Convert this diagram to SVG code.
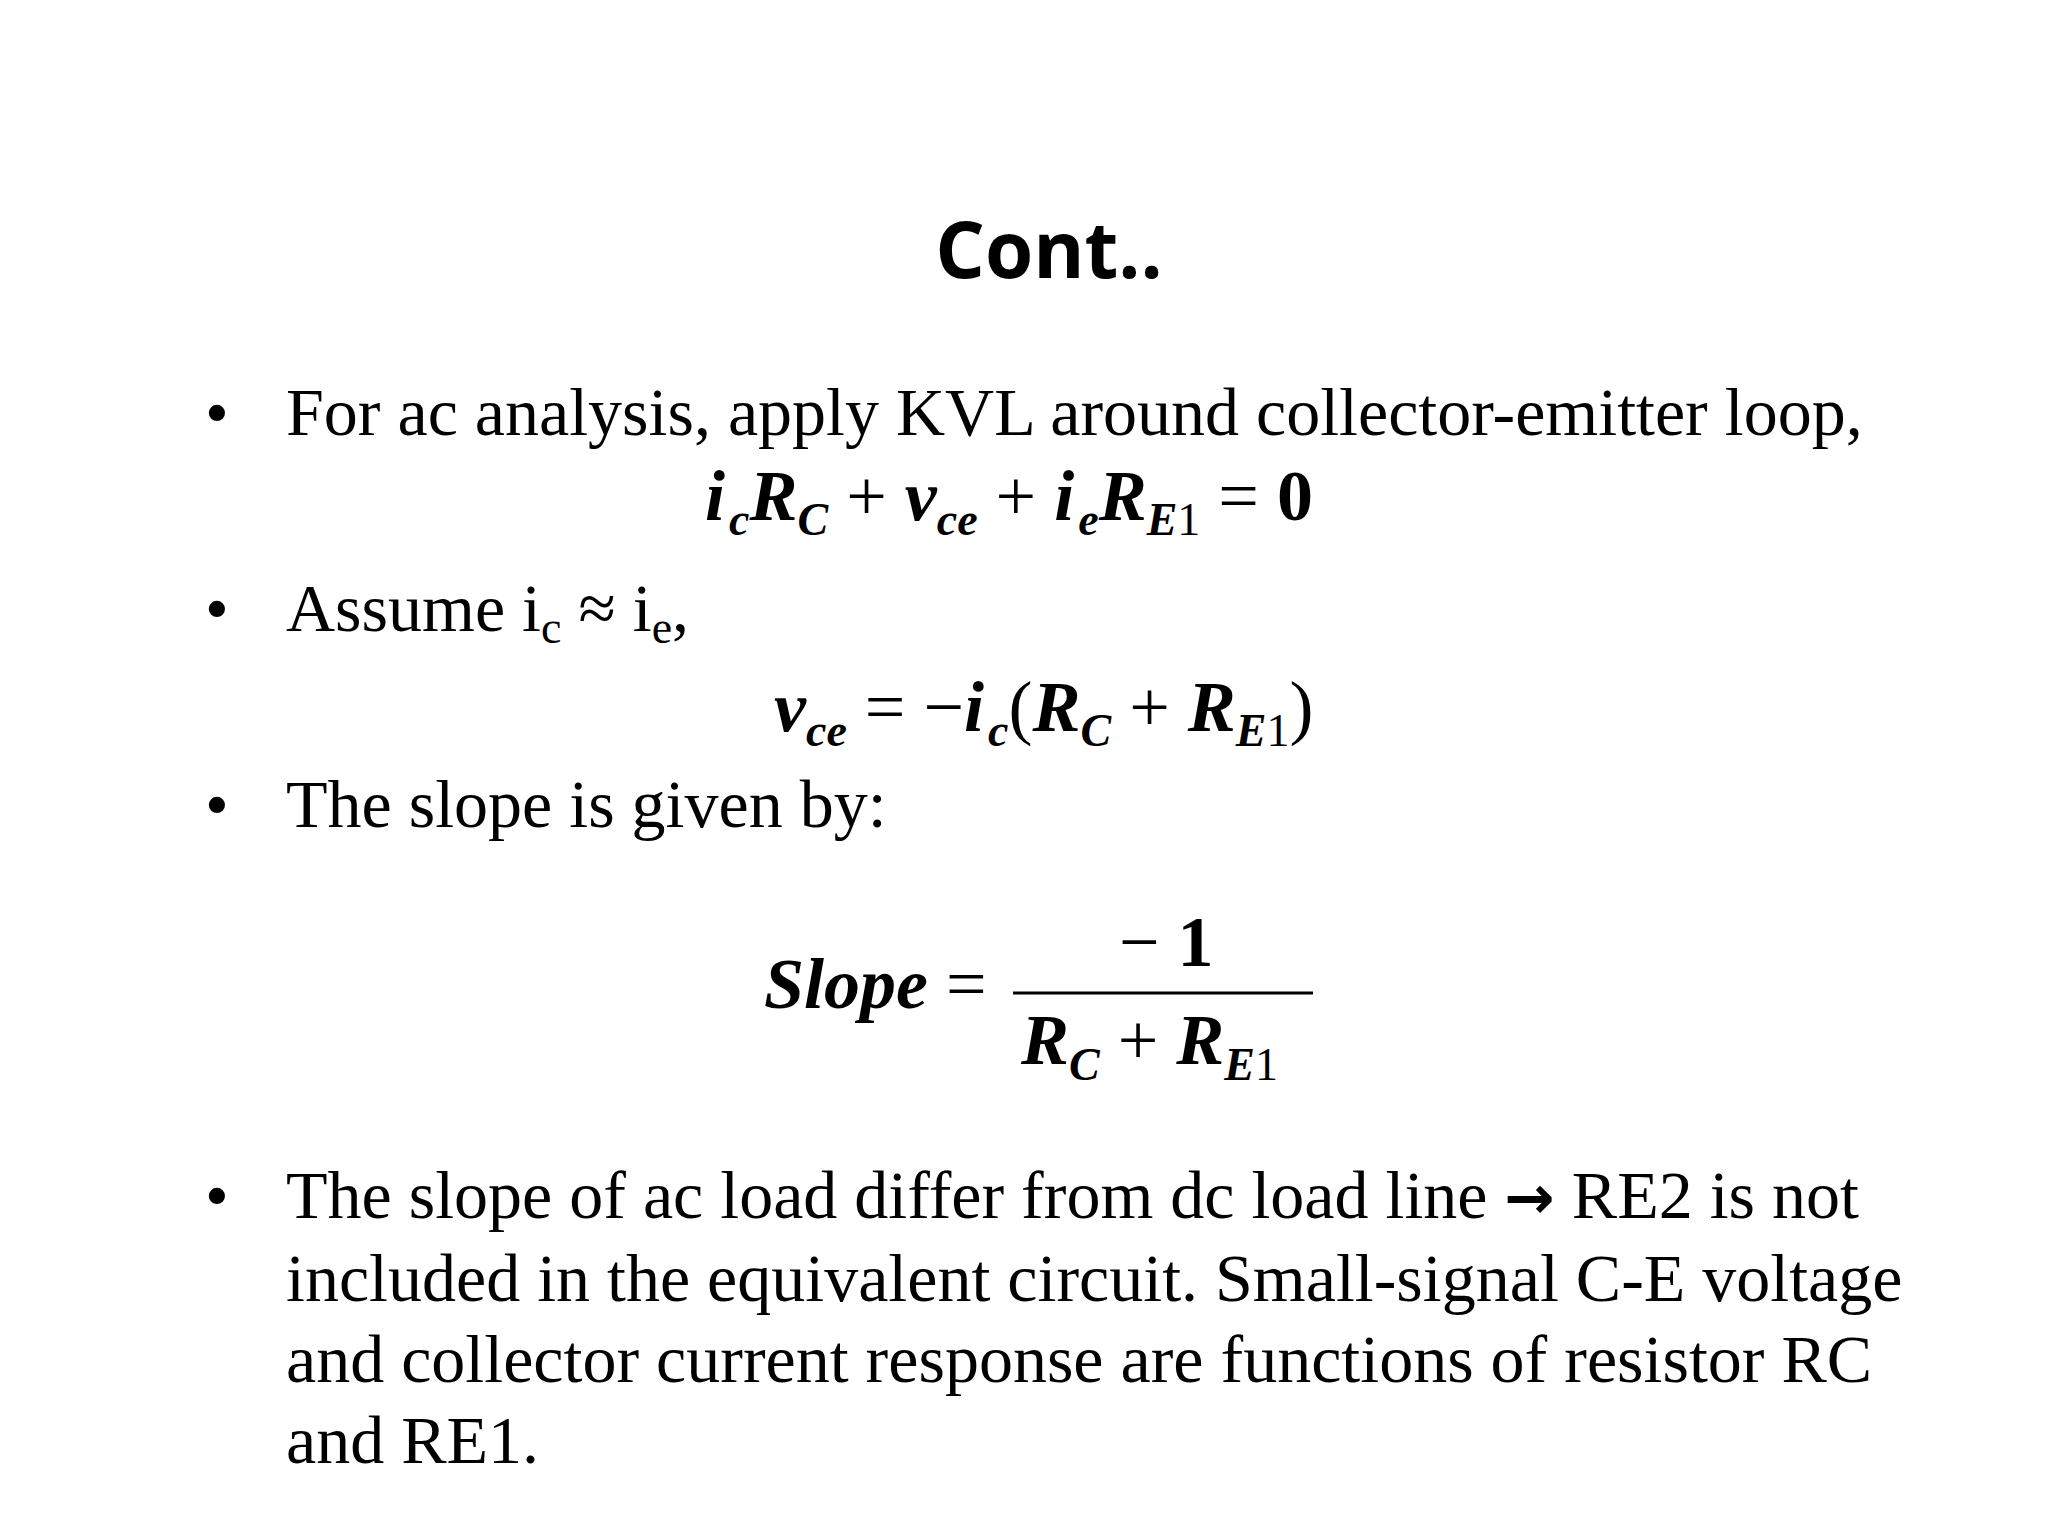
<svg xmlns="http://www.w3.org/2000/svg" width="2048" height="1536" viewBox="0 0 2048 1536">
<style>
.t{font-family:"Liberation Serif",serif;font-size:68px;fill:#000}
.m{font-family:"Liberation Serif",serif;font-size:72px;font-weight:bold;font-style:italic;fill:#000}
.n{font-style:normal;font-weight:normal}
.s{font-size:46px}
</style>
<rect width="2048" height="1536" fill="#fff"/>
<text x="1049" y="278" text-anchor="middle" font-family="Open Sans,Liberation Sans,sans-serif" font-weight="bold" font-size="78">Cont..</text>
<g class="t">
<text x="205" y="435">•</text><text x="286" y="435">For ac analysis, apply KVL around collector-emitter loop,</text>
<text x="205" y="631">•</text><text x="286" y="631">Assume i<tspan class="s" dy="12">c</tspan><tspan dy="-12"> ≈ i</tspan><tspan class="s" dy="12">e</tspan><tspan dy="-12">,</tspan></text>
<text x="205" y="827">•</text><text x="286" y="827">The slope is given by:</text>
<text x="205" y="1218">•</text><text x="286" y="1218">The slope of ac load differ from dc load line <tspan font-family="DejaVu Sans,sans-serif" font-weight="bold" font-size="60">→</tspan> RE2 is not</text>
<text x="286" y="1301">included in the equivalent circuit. Small-signal C-E voltage</text>
<text x="286" y="1382">and collector current response are functions of resistor RC</text>
<text x="286" y="1463">and RE1.</text>
</g>
<text class="m" x="705" y="520">i<tspan class="s" dx="4" dy="15">c</tspan><tspan dy="-15">R</tspan><tspan class="s" dy="15">C</tspan><tspan class="n" dy="-15">  + </tspan>v<tspan class="s" dy="15">ce</tspan><tspan class="n" dy="-15">  + </tspan>i<tspan class="s" dx="4" dy="15">e</tspan><tspan dy="-15">R</tspan><tspan class="s" dy="15">E<tspan class="n">1</tspan></tspan><tspan class="n" dy="-15">  = </tspan><tspan style="font-style:normal">0</tspan></text>
<text class="m" x="774" y="731">v<tspan class="s" dy="15">ce</tspan><tspan class="n" dy="-15">  = −</tspan>i<tspan class="s" dx="4" dy="15">c</tspan><tspan class="n" dy="-15">(</tspan>R<tspan class="s" dy="15">C</tspan><tspan class="n" dy="-15"> + </tspan>R<tspan class="s" dy="15">E<tspan class="n">1</tspan></tspan><tspan class="n" dy="-15">)</tspan></text>
<text class="m" x="764" y="1008">Slope<tspan class="n"> =</tspan></text>
<text class="m" x="1119" y="966"><tspan class="n">− </tspan><tspan style="font-style:normal">1</tspan></text>
<line x1="1013" y1="993" x2="1313" y2="993" stroke="#000" stroke-width="3"/>
<text class="m" x="1021" y="1064">R<tspan class="s" dy="16">C</tspan><tspan class="n" dy="-16">   + </tspan>R<tspan class="s" dy="16">E<tspan class="n">1</tspan></tspan></text>
</svg>
